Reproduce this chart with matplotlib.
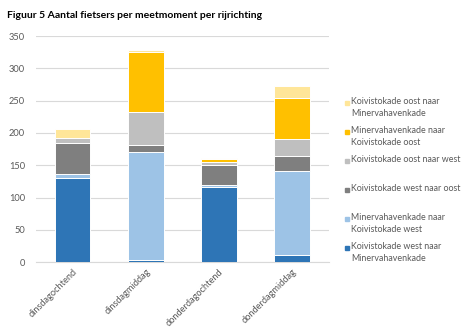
import matplotlib.pyplot as plt
from matplotlib.patches import Rectangle

plt.rcParams['font.family'] = ['Lato', 'DejaVu Sans']

categories = ['dinsdagochtend', 'dinsdagmiddag', 'donderdagochtend', 'donderdagmiddag']

# counts per direction, stacked bottom to top
west_naar_minerva = [130, 3, 116, 11]
minerva_naar_west = [7, 167, 4, 130]
west_naar_oost = [48, 11, 31, 24]
oost_naar_west = [8, 52, 4, 26]
minerva_naar_oost = [0, 92, 4, 63]
oost_naar_minerva = [13, 3, 3, 18]

series = [
    ('Koivistokade west naar\nMinervahavenkade', west_naar_minerva, '#2E75B6'),
    ('Minervahavenkade naar\nKoivistokade west', minerva_naar_west, '#9DC3E6'),
    ('Koivistokade west naar oost', west_naar_oost, '#7F7F7F'),
    ('Koivistokade oost naar west', oost_naar_west, '#BFBFBF'),
    ('Minervahavenkade naar\nKoivistokade oost', minerva_naar_oost, '#FFC000'),
    ('Koivistokade oost naar\nMinervahavenkade', oost_naar_minerva, '#FFE699'),
]

W, H = 471, 331
fig = plt.figure(figsize=(W / 100, H / 100), dpi=100)
ax = fig.add_axes([36 / W, (H - 262.3) / H, 292.5 / W, 226.3 / H])

x = range(len(categories))
bottom = [0] * len(categories)
for label, vals, color in series:
    ax.bar(x, vals, width=0.49, bottom=bottom, color=color,
           edgecolor='white', linewidth=0.7, zorder=3)
    bottom = [b + v for b, v in zip(bottom, vals)]

ax.set_xlim(-0.5, len(categories) - 0.5)
ax.set_ylim(0, 350)
ax.set_yticks(range(0, 351, 50))
ax.grid(axis='y', color='#D9D9D9', linewidth=0.8, zorder=0)
for s in ['top', 'right', 'left']:
    ax.spines[s].set_visible(False)
ax.spines['bottom'].set_color('#D9D9D9')
ax.spines['bottom'].set_linewidth(0.8)
ax.tick_params(length=0, colors='#595959', labelsize=6.7)
ax.tick_params(axis='y', pad=8)
ax.set_xticks(list(x))
ax.set_xticklabels(categories, rotation=45, ha='right', rotation_mode='anchor')

fig.text(7 / W, 1 - 16 / H, 'Figuur 5 Aantal fietsers per meetmoment per rijrichting',
         fontsize=7.5, fontweight='bold', color='black', va='center')

# legend, listed top to bottom in reverse stacking order
for i, (label, vals, color) in enumerate(reversed(series)):
    yc = 102.7 + i * 29.0
    fig.patches.append(Rectangle((345 / W, 1 - (yc + 2) / H), 4 / W, 4 / H,
                                 transform=fig.transFigure, color=color))
    fig.text(351 / W, 1 - (yc - 5.5) / H, label, fontsize=6.4, color='#595959',
             va='top', linespacing=1.4)

fig.savefig('out.png', dpi=100)
